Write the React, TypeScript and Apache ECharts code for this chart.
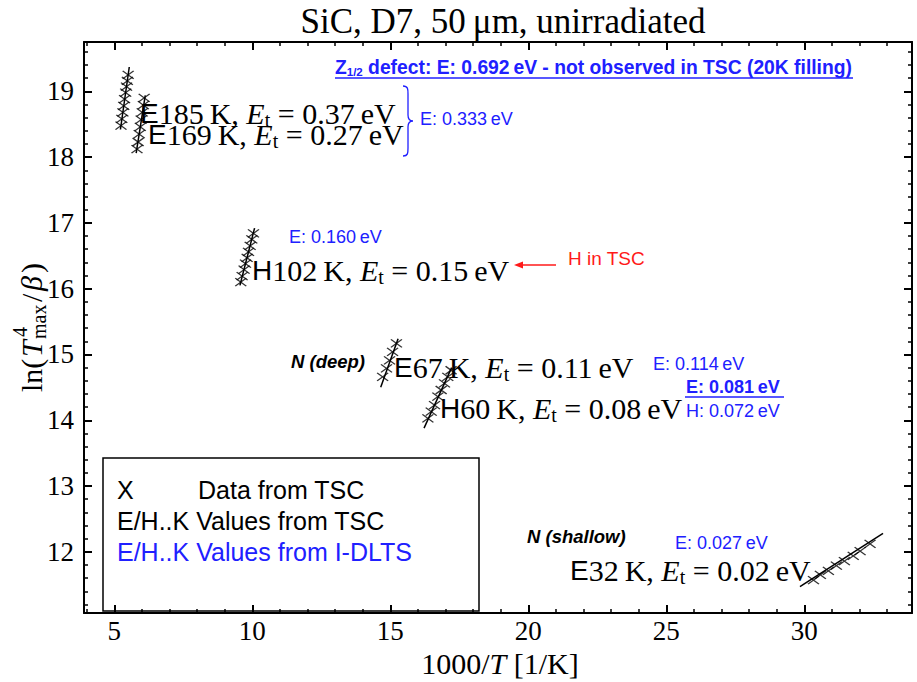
import React, { useEffect, useRef } from 'react';
import * as echarts from 'echarts';

// ---------- data ----------
const xTicks = [5, 10, 15, 20, 25, 30];
const yTicks = [12, 13, 14, 15, 16, 17, 18, 19];

// TSC data points (x = 1000/T, y = ln(Tmax^4/beta)) and fit lines
const e185X = [5.24, 5.27, 5.31, 5.34, 5.37, 5.41, 5.44, 5.47, 5.5];
const e185Y = [18.48, 18.58, 18.68, 18.78, 18.88, 18.98, 19.07, 19.16, 19.25];
const e185FitX = [5.22, 5.54];
const e185FitY = [18.42, 19.37];

const e169X = [5.82, 5.86, 5.9, 5.94, 5.97, 6.01, 6.05, 6.08];
const e169Y = [18.12, 18.23, 18.35, 18.46, 18.57, 18.68, 18.79, 18.9];
const e169FitX = [5.79, 6.12];
const e169FitY = [18.06, 18.94];

const h102X = [9.58, 9.63, 9.7, 9.75, 9.81, 9.86, 9.92, 9.98, 10.04];
const h102Y = [16.1, 16.19, 16.29, 16.38, 16.47, 16.56, 16.65, 16.75, 16.84];
const h102FitX = [9.55, 10.08];
const h102FitY = [16.05, 16.92];

const e67X = [14.72, 14.86, 14.97, 15.08, 15.22];
const e67Y = [14.66, 14.79, 14.91, 15.04, 15.17];
const e67FitX = [14.65, 15.28];
const e67FitY = [14.5, 15.24];

const h60X = [16.36, 16.48, 16.6, 16.72, 16.84, 16.96, 17.08, 17.2];
const h60Y = [14.03, 14.13, 14.23, 14.36, 14.46, 14.56, 14.66, 14.76];
const h60FitX = [16.22, 17.22];
const h60FitY = [13.88, 14.8];

const e32X = [30.33, 30.58, 30.87, 31.16, 31.45, 31.77, 32.02, 32.38];
const e32Y = [11.57, 11.65, 11.71, 11.79, 11.86, 11.94, 12.01, 12.12];
const e32FitX = [29.84, 32.85];
const e32FitY = [11.47, 12.28];

// annotation labels
const annTags = ['E', 'E', 'H', 'E', 'H', 'E'];
const annTemps = ['185', '169', '102', '67', '60', '32'];
const annEnergies = ['0.37', '0.27', '0.15', '0.11', '0.08', '0.02'];

// ---------- styling ----------
const SERIF = 'Liberation Serif';
const SANS = 'Liberation Sans';
const BLUE = '#2020ff';
const RED = '#ff1a1a';

const zip = (xs: number[], ys: number[]) => xs.map((x, i) => [x, ys[i]]);

const clusters = [
  [e185X, e185Y, e185FitX, e185FitY],
  [e169X, e169Y, e169FitX, e169FitY],
  [h102X, h102Y, h102FitX, h102FitY],
  [e67X, e67Y, e67FitX, e67FitY],
  [h60X, h60Y, h60FitX, h60FitY],
  [e32X, e32Y, e32FitX, e32FitY],
];

const annPos = [
  [140, 113],
  [148, 134],
  [252, 270],
  [394, 367],
  [440, 408],
  [570, 570],
];

const annRich = {
  s: { fontFamily: SANS, fontSize: 28, fill: '#000', lineHeight: 34 },
  r: { fontFamily: SERIF, fontSize: 30, fill: '#000', lineHeight: 34 },
  i: { fontFamily: SERIF, fontSize: 30, fontStyle: 'italic', fill: '#000', lineHeight: 34 },
  sub: { fontFamily: SERIF, fontSize: 20, fill: '#000', lineHeight: 20, verticalAlign: 'bottom' },
};

const txt = (x: number, y: number, text: string, style: any = {}) => ({
  type: 'text',
  x,
  y,
  silent: true,
  style: { text, align: 'left', verticalAlign: 'middle', ...style },
});

const blue = (x: number, y: number, text: string, extra: any = {}) =>
  txt(x, y, text, { fontFamily: SANS, fontSize: 18, fill: BLUE, ...extra });

export default function App() {
  const ref = useRef<HTMLDivElement>(null);

  useEffect(() => {
    if (!ref.current) return;
    echarts.graphic.registerShape(
      'brace',
      echarts.graphic.extendPath(
        'M0,0 C5,0 5,3 5,8 L5,29 C5,34 7,35 10,35 C7,35 5,36 5,41 L5,62 C5,67 5,70 0,70',
        {}
      )
    );
    const chart = echarts.init(ref.current, null, { renderer: 'svg' });

    const axisCommon: any = {
      type: 'value',
      axisLine: { show: true, onZero: false, lineStyle: { color: '#000', width: 2 } },
      axisTick: { show: true, inside: true, length: 8, lineStyle: { color: '#000', width: 2 } },
      minorTick: { show: true, splitNumber: 5, length: 4, lineStyle: { color: '#000', width: 1.5 } },
      splitLine: { show: false },
      minorSplitLine: { show: false },
    };
    const isTick = (v: number, ticks: number[]) =>
      ticks.some((t) => Math.abs(t - v) < 1e-6);

    const series: any[] = [];
    clusters.forEach(([xs, ys, fx, fy]) => {
      series.push({
        type: 'line',
        data: zip(fx, fy),
        showSymbol: false,
        symbol: 'none',
        silent: true,
        lineStyle: { color: '#000', width: 1.5 },
      });
      series.push({
        type: 'scatter',
        data: zip(xs, ys),
        symbol: 'path://M0,0L10,8M10,0L0,8',
        symbolSize: [11, 8],
        silent: true,
        itemStyle: { color: 'none', borderColor: '#000', borderWidth: 1.3 },
      });
    });

    const graphics: any[] = [];
    // title
    graphics.push(
      txt(503, 21, 'SiC, D7, 50\u2009\u03bcm, unirradiated', {
        fontFamily: SERIF,
        fontSize: 35,
        fill: '#000',
        align: 'center',
      })
    );
    // x axis name
    graphics.push(
      txt(500, 663, '{r|1000/}{i|T}{r| [1/K]}', {
        align: 'center',
        rich: {
          r: { fontFamily: SERIF, fontSize: 30, fill: '#000' },
          i: { fontFamily: SERIF, fontSize: 30, fontStyle: 'italic', fill: '#000' },
        },
      })
    );
    // y axis name (rotated)
    const yl = (x: number, y: number, text: string, size: number, italic = false) => ({
      type: 'text',
      x,
      y,
      silent: true,
      style: {
        text,
        fontFamily: SERIF,
        fontSize: size,
        fontStyle: italic ? 'italic' : 'normal',
        fill: '#000',
        align: 'left',
        verticalAlign: 'middle',
      },
    });
    graphics.push({
      type: 'group',
      x: 31,
      y: 326,
      rotation: Math.PI / 2,
      children: [
        yl(-66, 0, 'ln(', 30),
        yl(-31, 0, 'T', 30, true),
        yl(-11, -11, '4', 20),
        yl(-13, 8, 'max', 20),
        yl(24, 0, '/', 30),
        yl(35, 0, '\u03b2', 30, true),
        yl(53, 0, ')', 30),
      ],
    });
    // black annotations
    annTags.forEach((tag, i) => {
      graphics.push(
        txt(
          annPos[i][0],
          annPos[i][1],
          `{s|${tag}}{r|${annTemps[i]}\u2009K, }{i|E}{sub|t}{r| = ${annEnergies[i]}\u2009eV}`,
          { rich: annRich }
        )
      );
    });
    // blue annotations
    graphics.push(
      txt(335, 67, '{b|Z}{sb|1/2}{b| defect: E: 0.692\u2009eV - not observed in TSC (20K filling)}', {
        rich: {
          b: { fontFamily: SANS, fontSize: 19.3, fontWeight: 'bold', fill: BLUE, lineHeight: 22 },
          sb: { fontFamily: SANS, fontSize: 11.5, fontWeight: 'bold', fill: BLUE, lineHeight: 12, verticalAlign: 'bottom' },
        },
      })
    );
    graphics.push({
      type: 'line',
      silent: true,
      shape: { x1: 335, y1: 78, x2: 853, y2: 78 },
      style: { stroke: BLUE, lineWidth: 1.5 },
    });
    graphics.push({
      type: 'brace',
      x: 403,
      y: 86,
      silent: true,
      style: { stroke: BLUE, fill: 'none', lineWidth: 1.3 },
    });
    graphics.push(blue(420, 119, 'E: 0.333\u2009eV'));
    graphics.push(blue(289, 237, 'E: 0.160\u2009eV'));
    graphics.push(blue(653, 364, 'E: 0.114\u2009eV'));
    graphics.push(blue(686, 387, 'E: 0.081\u2009eV', { fontWeight: 'bold' }));
    graphics.push({
      type: 'line',
      silent: true,
      shape: { x1: 685, y1: 397, x2: 784, y2: 397 },
      style: { stroke: BLUE, lineWidth: 1.5 },
    });
    graphics.push(blue(686, 411, 'H: 0.072\u2009eV'));
    graphics.push(blue(675, 543, 'E: 0.027\u2009eV'));
    // red arrow + label
    graphics.push(txt(568, 258, 'H in TSC', { fontFamily: SANS, fontSize: 19, fill: RED }));
    graphics.push({
      type: 'line',
      silent: true,
      shape: { x1: 518, y1: 265, x2: 556, y2: 265 },
      style: { stroke: RED, lineWidth: 1.3 },
    });
    graphics.push({
      type: 'polygon',
      silent: true,
      shape: { points: [[514, 265], [523, 261.5], [523, 268.5]] },
      style: { fill: RED },
    });
    // N labels
    graphics.push(
      txt(291, 361, 'N (deep)', { fontFamily: SANS, fontSize: 18.5, fontWeight: 'bold', fontStyle: 'italic', fill: '#000' })
    );
    graphics.push(
      txt(527, 536, 'N (shallow)', { fontFamily: SANS, fontSize: 18.5, fontWeight: 'bold', fontStyle: 'italic', fill: '#000' })
    );
    // legend box
    graphics.push({
      type: 'rect',
      silent: true,
      shape: { x: 103, y: 458, width: 376, height: 153 },
      style: { fill: '#fff', stroke: '#000', lineWidth: 1.5 },
      z: 0,
    });
    const legStyle = { fontFamily: SANS, fontSize: 25, fill: '#000' };
    graphics.push(txt(117, 490, 'X', legStyle));
    graphics.push(txt(198, 490, 'Data from TSC', legStyle));
    graphics.push(txt(117, 521, 'E/H..K Values from TSC', legStyle));
    graphics.push(txt(117, 552, 'E/H..K Values from I-DLTS', { ...legStyle, fill: BLUE }));

    chart.setOption({
      animation: false,
      backgroundColor: '#fff',
      grid: { left: 84, right: 5, top: 42, bottom: 69, containLabel: false },
      xAxis: [
        {
          ...axisCommon,
          position: 'bottom',
          min: 3.9,
          max: 33.9,
          splitNumber: 6,
          axisLabel: {
            show: true,
            margin: 4,
            fontFamily: SERIF,
            fontSize: 27,
            color: '#000',
            formatter: (v: number) => (isTick(v, xTicks) ? String(Math.round(v)) : ''),
          },
        },
        {
          ...axisCommon,
          position: 'top',
          min: 3.9,
          max: 33.9,
          splitNumber: 6,
          axisLabel: { show: false },
        },
      ],
      yAxis: [
        {
          ...axisCommon,
          position: 'left',
          min: 11.07,
          max: 19.75,
          splitNumber: 8,
          axisLabel: {
            show: true,
            margin: 10,
            fontFamily: SERIF,
            fontSize: 27,
            color: '#000',
            formatter: (v: number) => (isTick(v, yTicks) ? String(Math.round(v)) : ''),
          },
        },
        {
          ...axisCommon,
          position: 'right',
          min: 11.07,
          max: 19.75,
          splitNumber: 8,
          axisLabel: { show: false },
        },
      ],
      series,
      graphic: graphics,
    });

    return () => chart.dispose();
  }, []);

  return (
    <div
      ref={ref}
      style={{ position: 'fixed', left: 0, top: 0, width: 917, height: 682, background: '#fff' }}
    />
  );
}
